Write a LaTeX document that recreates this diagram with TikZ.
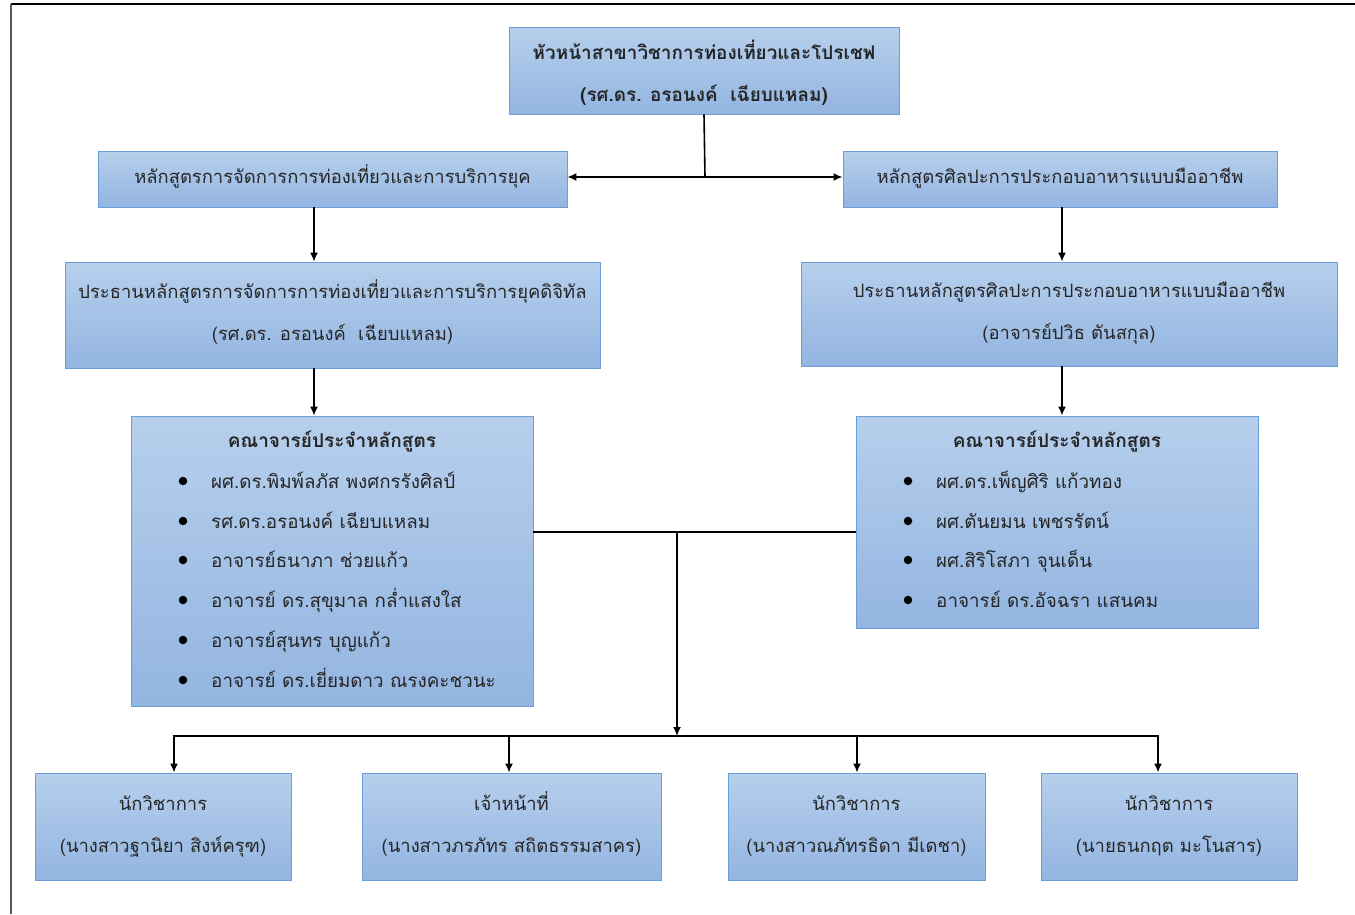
\documentclass[tikz,border=0pt]{standalone}
\usepackage{fontspec}
\newfontfamily\thai[Script=Thai]{Loma}
\usetikzlibrary{arrows.meta}
\definecolor{boxtop}{HTML}{B6CFEC}
\definecolor{boxbot}{HTML}{93B5E1}
\definecolor{boxline}{HTML}{6A9FD8}
\definecolor{txt}{HTML}{262626}
% one text row of fixed height and depth, optionally raised
\newcommand\rowtxt[2][0pt]{\raisebox{#1}[13pt][4pt]{#2}}
\tikzset{
  unit/.style={draw=boxline, line width=0.9pt, top color=boxtop, bottom color=boxbot,
    inner sep=0pt, text=txt, align=center},
  twoline/.style={font=\thai\fontsize{18.4}{42}\selectfont},
  oneline/.style={font=\thai\fontsize{18.4}{20}\selectfont},
  label/.style={inner sep=0pt, text=txt, text height=16pt, text depth=1pt},
  item/.style={label, anchor=west, font=\thai\fontsize{18.8}{20}\selectfont},
  dot/.style={circle, fill=black, inner sep=0pt, minimum size=8.5pt},
  link/.style={line width=1.6pt, black},
  arr/.style={link, -{Latex[length=9pt,width=8pt]}}
}
\begin{document}
\begin{tikzpicture}[x=1pt,y=-1pt]
\useasboundingbox (0,0) rectangle (1355,914);
% page frame
\draw[line width=2pt, black] (11,4) -- (1355,4);
\draw[line width=2pt, black!65] (11,4) -- (11,914);

% head of the programme group
\node[unit, font=\thai\bfseries\fontsize{18.9}{42}\selectfont,
  minimum width=390pt, minimum height=87pt] (head) at (704,70.5)
  {\rowtxt[-5pt]{หัวหน้าสาขาวิชาการท่องเที่ยวและโปรเชฟ}\\\rowtxt[-5pt]{(รศ.ดร. อรอนงค์~~เฉียบแหลม)}};

% the two programmes
\node[unit, oneline, minimum width=469pt, minimum height=56pt] (proA) at (332.5,179)
  {\rowtxt{หลักสูตรการจัดการการท่องเที่ยวและการบริการยุค}};
\node[unit, oneline, minimum width=434pt, minimum height=56pt] (proB) at (1060,179)
  {\rowtxt{หลักสูตรศิลปะการประกอบอาหารแบบมืออาชีพ}};

% programme chairs
\node[unit, twoline, minimum width=535pt, minimum height=106pt] (chA) at (332.5,315)
  {\rowtxt{ประธานหลักสูตรการจัดการการท่องเที่ยวและการบริการยุคดิจิทัล}\\\rowtxt{(รศ.ดร. อรอนงค์~~เฉียบแหลม)}};
\node[unit, twoline, minimum width=536pt, minimum height=104pt] (chB) at (1069,314)
  {\rowtxt{ประธานหลักสูตรศิลปะการประกอบอาหารแบบมืออาชีพ}\\\rowtxt{(อาจารย์ปวิธ ตันสกุล)}};

% programme staff
\node[unit, minimum width=402pt, minimum height=290pt] (fa) at (332,561) {};
\node[unit, minimum width=402pt, minimum height=212pt] (fb) at (1057,522) {};

\node[label, font=\thai\bfseries\fontsize{19}{20}\selectfont] (faH) at (332,440) {คณาจารย์ประจำหลักสูตร};
\node[dot] (fa1d) at (183,481) {}; \node[item] (fa1) at (211,481) {ผศ.ดร.พิมพ์ลภัส พงศกรรังศิลป์};
\node[dot] (fa2d) at (183,521) {}; \node[item] (fa2) at (211,521) {รศ.ดร.อรอนงค์ เฉียบแหลม};
\node[dot] (fa3d) at (183,560) {}; \node[item] (fa3) at (211,560) {อาจารย์ธนาภา ช่วยแก้ว};
\node[dot] (fa4d) at (183,600) {}; \node[item] (fa4) at (211,600) {อาจารย์ ดร.สุขุมาล กล่ำแสงใส};
\node[dot] (fa5d) at (183,640) {}; \node[item] (fa5) at (211,640) {อาจารย์สุนทร บุญแก้ว};
\node[dot] (fa6d) at (183,680) {}; \node[item] (fa6) at (211,680) {อาจารย์ ดร.เยี่ยมดาว ณรงคะชวนะ};

\node[label, font=\thai\bfseries\fontsize{19}{20}\selectfont] (fbH) at (1057,440) {คณาจารย์ประจำหลักสูตร};
\node[dot] (fb1d) at (908,481) {}; \node[item] (fb1) at (936,481) {ผศ.ดร.เพ็ญศิริ แก้วทอง};
\node[dot] (fb2d) at (908,521) {}; \node[item] (fb2) at (936,521) {ผศ.ตันยมน เพชรรัตน์};
\node[dot] (fb3d) at (908,560) {}; \node[item] (fb3) at (936,560) {ผศ.สิริโสภา จุนเด็น};
\node[dot] (fb4d) at (908,600) {}; \node[item] (fb4) at (936,600) {อาจารย์ ดร.อัจฉรา แสนคม};

% support staff
\node[unit, twoline, minimum width=256pt, minimum height=107pt] (s1) at (163,826.5)
  {\rowtxt{นักวิชาการ}\\\rowtxt{(นางสาวฐานิยา สิงห์ครุฑ)}};
\node[unit, twoline, minimum width=299pt, minimum height=107pt] (s2) at (511.5,826.5)
  {\rowtxt{เจ้าหน้าที่}\\\rowtxt{(นางสาวภรภัทร สถิตธรรมสาคร)}};
\node[unit, twoline, minimum width=257pt, minimum height=107pt] (s3) at (856.5,826.5)
  {\rowtxt{นักวิชาการ}\\\rowtxt{(นางสาวณภัทรธิดา มีเดชา)}};
\node[unit, twoline, minimum width=256pt, minimum height=107pt] (s4) at (1169,826.5)
  {\rowtxt{นักวิชาการ}\\\rowtxt{(นายธนกฤต มะโนสาร)}};

% connectors
\coordinate (split) at (705,177);
\draw[link] (head.south) -- (split);
\draw[arr] (split) -- (proA.east |- split);
\draw[arr] (split) -- (proB.west |- split);

\draw[arr] (proA.south -| 314,0) -- (chA.north -| 314,0);
\draw[arr] (proB.south -| 1062,0) -- (chB.north -| 1062,0);
\draw[arr] (chA.south -| 314,0) -- (fa.north -| 314,0);
\draw[arr] (chB.south -| 1062,0) -- (fb.north -| 1062,0);

\coordinate (hub) at (677,532);
\coordinate (bus) at (677,736);
\draw[link] (fa.east |- hub) -- (fb.west |- hub);
\draw[arr] (hub) -- (bus);
\coordinate (t1) at (174,736);
\coordinate (t2) at (509,736);
\coordinate (t3) at (857,736);
\coordinate (t4) at (1158,736);
\draw[link] ([xshift=-0.8pt]t1) -- ([xshift=0.8pt]t4);
\draw[arr] (t1) -- (t1 |- s1.north);
\draw[arr] (t2) -- (t2 |- s2.north);
\draw[arr] (t3) -- (t3 |- s3.north);
\draw[arr] (t4) -- (t4 |- s4.north);
\end{tikzpicture}
\end{document}
